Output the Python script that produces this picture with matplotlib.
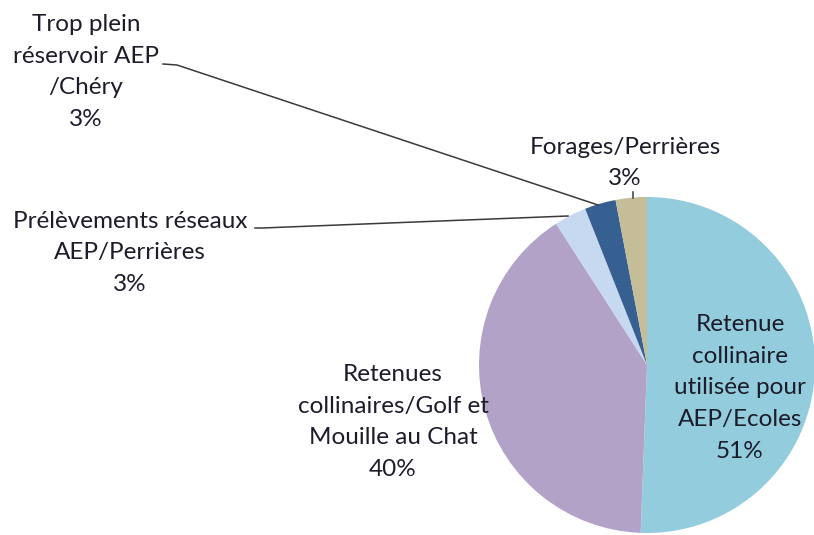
import matplotlib
matplotlib.use('Agg')
import matplotlib.pyplot as plt

# slice data, clockwise from the top
labels = ['Retenue\ncollinaire\nutilisée pour\nAEP/Ecoles',
          'Retenues\ncollinaires/Golf et\nMouille au Chat',
          'Prélèvements réseaux\nAEP/Perrières',
          'Trop plein\nréservoir AEP\n/Chéry',
          'Forages/Perrières']
values = [50.6, 40.3, 3.1, 3.0, 3.0]
colors = ['#93CDDD', '#B3A2C7', '#C6D9F1', '#376092', '#C4BD97']

W, H = 814, 535


def py(y):
    # pixel row -> data y
    return H - y


fig = plt.figure(figsize=(W / 100, H / 100), dpi=100)
ax = fig.add_axes([0, 0, 1, 1])

ax.pie(values, colors=colors, startangle=90, counterclock=False,
       center=(647, py(365)), radius=168, frame=True,
       wedgeprops={'linewidth': 0})
ax.set_xlim(0, W)
ax.set_ylim(0, H)
ax.set_aspect('equal')
ax.axis('off')

# label centres (pixels)
label_pos = [(740, 388), (393, 422), (130, 253), (86, 72), (625, 163)]
for lab, v, (x, y) in zip(labels, values, label_pos):
    ax.text(x, py(y), lab + '\n' + f'{round(v)}%', ha='center', va='center',
            fontsize=17.5, family='Lato', color='#1c1c2a', linespacing=1.62)

# leader lines
lc = '#3a3a3a'
ax.plot([163, 177, 598], [py(64), py(65), py(205)], color=lc, lw=1.1)
ax.plot([255, 262, 568], [py(228), py(228), py(216)], color=lc, lw=1.1)
ax.plot([633, 633], [py(192), py(198)], color=lc, lw=1.1)

fig.savefig('out.png', dpi=100)
